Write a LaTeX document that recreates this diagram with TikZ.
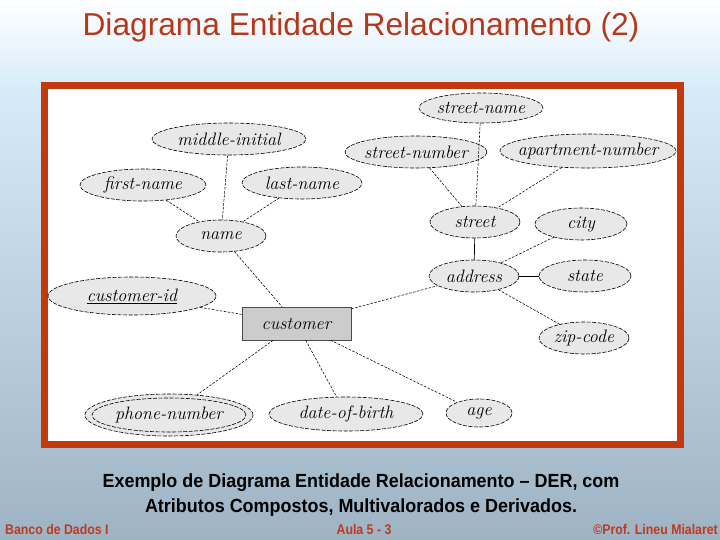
\documentclass[tikz,border=0pt]{standalone}
\usepackage{fontspec}
\newfontfamily\sans{Liberation Sans}
\newfontfamily\capfont[FakeStretch=0.945]{Liberation Sans}
\newfontfamily\footfont[FakeStretch=0.88]{Liberation Sans}
\usetikzlibrary{shapes.geometric}
\definecolor{framered}{RGB}{196,56,14}
\definecolor{titlered}{RGB}{182,56,26}
\definecolor{footred}{RGB}{190,58,28}
\definecolor{ellfill}{RGB}{232,232,232}
\definecolor{entfill}{RGB}{204,204,204}
\definecolor{bgtop}{RGB}{255,255,255}
\definecolor{bgmid}{RGB}{214,235,250}
\definecolor{bgbot}{RGB}{158,180,196}
\newcommand{\erfont}{\itshape\fontsize{18}{21}\selectfont}
\begin{document}
\begin{tikzpicture}[x=1pt,y=-1pt,
  attr/.style={ellipse, draw=black, line width=0.6pt, dash pattern=on 4pt off 1.5pt,
    fill=ellfill, inner sep=0pt},
  erlabel/.style={font=\erfont, inner sep=0pt},
  conn/.style={line width=0.55pt, dash pattern=on 2.5pt off 1.5pt},
  solidconn/.style={line width=0.7pt},
  entity/.style={rectangle, draw=black!70, line width=0.5pt, fill=entfill,
    minimum width=109pt, minimum height=33pt, inner sep=0pt, font=\erfont}]
% background
\useasboundingbox (0,0) rectangle (720,540);
\shade[top color=bgtop, bottom color=bgmid] (0,0) rectangle (720,90);
\shade[top color=bgmid, bottom color=bgbot] (0,90) rectangle (720,540);
% frame
\draw[line width=7pt, draw=framered, fill=white] (44.5,85.5) rectangle (680.5,444.5);
% title
\node[font=\sans\fontsize{31.7}{36}\selectfont, text=titlered, anchor=base, inner sep=0pt]
  (title) at (361,36) {Diagrama Entidade Relacionamento (2)};
% attributes
\node[attr, minimum width=124pt, minimum height=30pt, label={[erlabel]center:street-name}] (streetname) at (481,108) {};
\node[attr, minimum width=154pt, minimum height=32pt, label={[erlabel]center:middle-initial}] (midinit) at (229,139) {};
\node[attr, minimum width=126pt, minimum height=32pt, label={[erlabel]center:first-name}] (firstname) at (143,185) {};
\node[attr, minimum width=120pt, minimum height=32pt, label={[erlabel]center:last-name}] (lastname) at (302,183) {};
\node[attr, minimum width=90pt, minimum height=32pt, label={[erlabel]center:name}] (name) at (221,236) {};
\node[attr, minimum width=142pt, minimum height=32pt, label={[erlabel]center:street-number}] (streetnum) at (416,152) {};
\node[attr, minimum width=176pt, minimum height=34pt, label={[erlabel]center:apartment-number}] (aptnum) at (588,151) {};
\node[attr, minimum width=90pt, minimum height=32pt, label={[erlabel]center:street}] (street) at (475,222) {};
\node[attr, minimum width=92pt, minimum height=32pt, label={[erlabel]center:city}] (city) at (581,224) {};
\node[attr, minimum width=90pt, minimum height=32pt, label={[erlabel]center:address}] (address) at (474,276) {};
\node[attr, minimum width=92pt, minimum height=32pt, label={[erlabel]center:state}] (state) at (585,276) {};
\node[attr, minimum width=90pt, minimum height=32pt, label={[erlabel]center:zip-code}] (zip) at (584,338) {};
\node[attr, minimum width=66pt, minimum height=28pt, label={[erlabel]center:age}] (age) at (479,413) {};
\node[attr, minimum width=154pt, minimum height=34pt, label={[erlabel]center:date-of-birth}] (dob) at (346,414) {};
\node[attr, minimum width=168pt, minimum height=42pt] (phone) at (169,415) {};
\draw[line width=0.6pt, dash pattern=on 4pt off 1.5pt] (phone.center) ellipse (77pt and 17pt);
\node[erlabel] (phonetext) at (phone.center) {phone-number};
\node[attr, minimum width=168pt, minimum height=38pt, label={[erlabel]center:\underline{customer-id}}] (custid) at (132,296) {};
% entity
\node[entity] (customer) at (296.5,323.5) {customer};
% connectors
\draw[conn] (midinit) -- (name);
\draw[conn] (firstname) -- (name);
\draw[conn] (lastname) -- (name);
\draw[conn] (name) -- (customer);
\draw[conn] (custid) -- (customer);
\draw[conn] (customer) -- (address);
\draw[conn] (customer) -- (phone);
\draw[conn] (customer) -- (dob);
\draw[conn] (customer) -- (age);
\draw[conn] (streetname) -- (street);
\draw[conn] (streetnum) -- (street);
\draw[conn] (aptnum) -- (street);
\draw[solidconn] (street) -- (address);
\draw[conn] (city) -- (address);
\draw[solidconn] (address) -- (state);
\draw[conn] (address) -- (zip);
% caption
\node[font=\capfont\bfseries\fontsize{19}{22}\selectfont, anchor=base, inner sep=0pt]
  (cap1) at (361,487) {Exemplo de Diagrama Entidade Relacionamento – DER, com};
\node[font=\capfont\bfseries\fontsize{19}{22}\selectfont, anchor=base, inner sep=0pt]
  (cap2) at (361,512) {Atributos Compostos, Multivalorados e Derivados.};
% footer
\node[font=\footfont\bfseries\fontsize{14}{16}\selectfont, text=footred, anchor=base west, inner sep=0pt]
  (foot1) at (5,534) {Banco de Dados I};
\node[font=\footfont\bfseries\fontsize{14}{16}\selectfont, text=footred, anchor=base, inner sep=0pt]
  (foot2) at (364,534) {Aula 5 - 3};
\node[font=\footfont\bfseries\fontsize{14}{16}\selectfont, text=footred, anchor=base east, inner sep=0pt]
  (foot3) at (718,534) {©Prof. Lineu Mialaret};
\end{tikzpicture}
\end{document}
